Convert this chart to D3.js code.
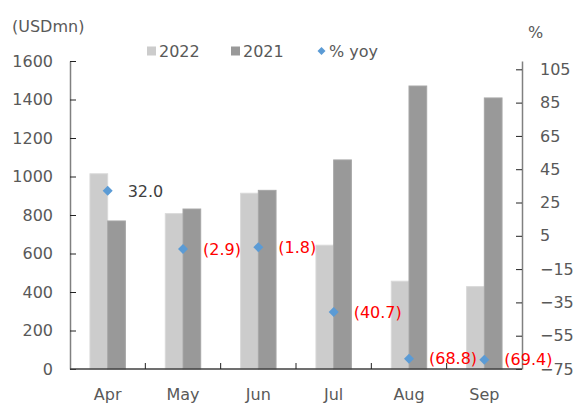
<!DOCTYPE html>
<html>
<head>
<meta charset="utf-8">
<script src="https://cdn.jsdelivr.net/npm/d3@7"></script>
<style>
  body { margin: 0; background: #fff; }
  text { font-family: "DejaVu Sans", Verdana, sans-serif; }
</style>
</head>
<body>
<div id="chart"></div>
<script>
// data
const months = ["Apr", "May", "Jun", "Jul", "Aug", "Sep"];
const series = ["2022", "2021"];
const v2022 = [1014, 807, 913, 643, 456, 428];
const v2021 = [769, 831, 928, 1086, 1470, 1408];
const yoy = [32.0, -2.9, -1.8, -40.7, -68.8, -69.4];
const leftTicks = [0, 200, 400, 600, 800, 1000, 1200, 1400, 1600];
const rightTicks = [-75, -55, -35, -15, 5, 25, 45, 65, 85, 105];

const W = 573, H = 403;
const plot = {left: 70, right: 522, top: 61, bottom: 369};
const colors = {"2022": "#cccccc", "2021": "#999999"};
const tickCol = "#595959";

const svg = d3.select("#chart").append("svg")
  .attr("width", W).attr("height", H);

const x = d3.scaleBand().domain(months).range([plot.left, plot.right]);
const barW = x.bandwidth() * 0.235;
const x1 = d3.scaleBand().domain(series)
  .range([x.bandwidth() / 2 - barW, x.bandwidth() / 2 + barW]);
const y = d3.scaleLinear().domain([0, 1600]).range([plot.bottom, plot.top]);
const y2 = d3.scaleLinear().domain([-75, 110]).range([plot.bottom, plot.top]);

const rows = months.map((m, i) => ({m: m, "2022": v2022[i], "2021": v2021[i], yoy: yoy[i]}));

// bars
const grp = svg.append("g").selectAll("g")
  .data(rows).join("g")
  .attr("transform", d => "translate(" + x(d.m) + ",0)");
grp.selectAll("rect")
  .data(d => series.map(s => ({s: s, v: d[s]})))
  .join("rect")
  .attr("x", d => x1(d.s))
  .attr("y", d => y(d.v))
  .attr("width", x1.bandwidth())
  .attr("height", d => y(0) - y(d.v))
  .attr("fill", d => colors[d.s])
  .attr("stroke", d => d.s == "2022" ? "#d9d9d9" : "#a6a6a6")
  .attr("stroke-width", 1);

// left axis
const yAxis = d3.axisLeft(y).tickValues(leftTicks).tickFormat(d3.format("d"))
  .tickSizeInner(-6).tickSizeOuter(0).tickPadding(17);
const gl = svg.append("g").attr("transform", "translate(" + plot.left + ",0)").call(yAxis);
gl.select(".domain").attr("stroke", "#808080").attr("stroke-width", 1.5);
gl.selectAll(".tick line").attr("stroke", "#222");
gl.selectAll(".tick text").attr("font-size", 16).attr("fill", tickCol)
  .attr("font-family", "DejaVu Sans");

// right axis
const yAxis2 = d3.axisRight(y2).tickValues(rightTicks).tickFormat(d3.format("d"))
  .tickSizeInner(-6).tickSizeOuter(0).tickPadding(18);
const gr = svg.append("g").attr("transform", "translate(" + plot.right + ",0)").call(yAxis2);
gr.select(".domain").attr("stroke", "#808080").attr("stroke-width", 1.5);
gr.selectAll(".tick line").attr("stroke", "#222");
gr.selectAll(".tick text").attr("font-size", 16).attr("fill", tickCol)
  .attr("font-family", "DejaVu Sans");

// bottom axis, ticks between categories
const gb = svg.append("g").attr("transform", "translate(0," + plot.bottom + ")");
gb.append("line").attr("x1", plot.left).attr("x2", plot.right)
  .attr("stroke", "#404040").attr("stroke-width", 1.5);
gb.selectAll("line.sep").data(months.slice(1)).join("line")
  .attr("class", "sep")
  .attr("x1", d => x(d)).attr("x2", d => x(d))
  .attr("y1", 0).attr("y2", -6).attr("stroke", "#222");
gb.selectAll("text").data(months).join("text")
  .attr("x", d => x(d) + x.bandwidth() / 2)
  .attr("y", 31)
  .attr("text-anchor", "middle")
  .attr("font-size", 16).attr("fill", tickCol)
  .text(d => d);

// yoy markers + labels
const diamond = d3.symbol(d3.symbolSquare, 50);
const cx = d => x(d.m) + x.bandwidth() / 2;
svg.append("g").selectAll("path")
  .data(rows).join("path")
  .attr("d", diamond)
  .attr("transform", d => "translate(" + cx(d) + "," + y2(d.yoy) + ") rotate(45)")
  .attr("fill", "#5b9bd5");
svg.append("g").selectAll("text")
  .data(rows).join("text")
  .attr("x", d => cx(d) + 20)
  .attr("y", d => y2(d.yoy))
  .attr("dy", "0.36em")
  .attr("font-size", 16)
  .attr("fill", d => d.yoy < 0 ? "#ff0000" : "#404040")
  .text(d => d.yoy < 0 ? "(" + Math.abs(d.yoy).toFixed(1) + ")" : d.yoy.toFixed(1));

// axis titles
svg.append("text").attr("x", 12).attr("y", 32).attr("font-size", 16).attr("fill", tickCol).text("(USDmn)");
svg.append("text").attr("x", 528).attr("y", 38).attr("font-size", 16).attr("fill", tickCol).text("%");

// legend
const leg = svg.append("g").attr("transform", "translate(0,51)");
const legItems = [
  {label: "2022", x: 147, type: "rect", c: colors["2022"]},
  {label: "2021", x: 231, type: "rect", c: colors["2021"]},
  {label: "% yoy", x: 317, type: "diamond", c: "#5b9bd5"}
];
legItems.forEach(it => {
  if (it.type == "rect") {
    leg.append("rect").attr("x", it.x).attr("y", -4.5).attr("width", 9).attr("height", 9).attr("fill", it.c);
  } else {
    leg.append("path").attr("d", d3.symbol(d3.symbolSquare, 32))
      .attr("transform", "translate(" + (it.x + 4.5) + ",0) rotate(45)").attr("fill", it.c);
  }
  leg.append("text").attr("x", it.x + 12).attr("y", 0).attr("dy", "0.36em")
    .attr("font-size", 16).attr("fill", tickCol).text(it.label);
});
</script>
</body>
</html>
